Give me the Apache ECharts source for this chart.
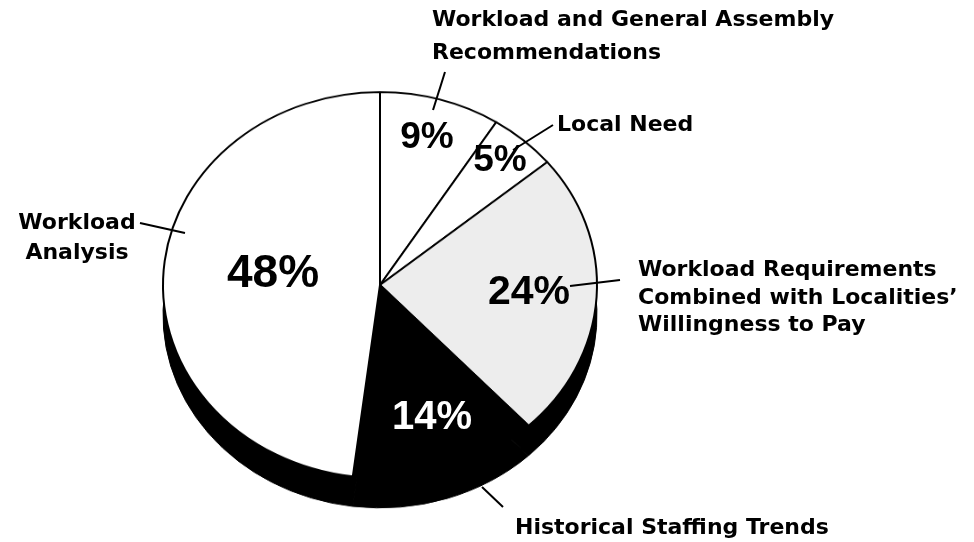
<!DOCTYPE html>
<html>
<head>
<meta charset="utf-8">
<script src="https://cdn.jsdelivr.net/npm/echarts@6/dist/echarts.min.js"></script>
<style>
  html, body { margin:0; padding:0; background:#fff; }
  #wrap { position:relative; width:974px; height:542px; overflow:hidden; }
  #pie { position:absolute; left:0; top:0; width:974px; height:542px; transform: scaleY(0.889); transform-origin: 380px 285px; }
  #labels { position:absolute; left:0; top:0; width:974px; height:542px; }
</style>
</head>
<body>
<div id="wrap">
  <div id="pie"></div>
  <div id="labels"></div>
</div>
<script>
// ---- data ----
const categories = [
  'Workload and General Assembly\nRecommendations',
  'Local Need',
  'Workload Requirements\nCombined with Localities\u2019\nWillingness to Pay',
  'Historical Staffing Trends',
  'Workload\nAnalysis'
];
const values = [9, 5, 24, 14, 48];
const sliceColors = ['#ffffff', '#ffffff', '#ededed', '#000000', '#ffffff'];

// ---- pie layer (vertically squashed to an ellipse) ----
const pieChart = echarts.init(document.getElementById('pie'), null, { renderer: 'canvas' });
const CX = 380, CY = 285, R = 217, SQUASH = 0.889, DEPTH = 30;
pieChart.setOption({
  animation: false,
  series: [
    {
      type: 'pie', silent: true,
      center: [CX, CY + DEPTH / SQUASH], radius: R,
      startAngle: 90, clockwise: true,
      label: { show: false }, labelLine: { show: false },
      itemStyle: { color: '#000', borderColor: '#000', borderWidth: 1 },
      data: values.map((v, i) => ({ value: v, name: categories[i] }))
    },
    {
      type: 'pie', silent: true,
      center: [CX, CY], radius: R,
      startAngle: 90, clockwise: true,
      label: { show: false }, labelLine: { show: false },
      itemStyle: { borderColor: '#000', borderWidth: 2 },
      data: values.map((v, i) => ({ value: v, name: categories[i], itemStyle: { color: sliceColors[i] } }))
    }
  ]
});

// ---- label layer ----
const labelChart = echarts.init(document.getElementById('labels'), null, { renderer: 'canvas' });
const NAME_FONT = 'bold 22px "DejaVu Sans"';
const PCT_FAMILY = '"Liberation Sans", Arial, sans-serif';
function txt(x, y, text, font, fill, align, lineHeight) {
  return { type: 'text', x: x, y: y, silent: true, z: 10,
    style: { text: text, font: font, fill: fill || '#000', align: align || 'left', verticalAlign: 'middle', lineHeight: lineHeight || 30 } };
}
function ln(x1, y1, x2, y2) {
  return { type: 'line', silent: true, z: 9, shape: { x1: x1, y1: y1, x2: x2, y2: y2 }, style: { stroke: '#000', lineWidth: 2 } };
}
const pct = values.map(v => v + '%');
labelChart.setOption({
  animation: false,
  graphic: [
    // category names
    txt(432, 37, categories[0], NAME_FONT, '#000', 'left', 33),
    txt(557, 125, categories[1], NAME_FONT, '#000', 'left', 28),
    txt(638, 298, categories[2], NAME_FONT, '#000', 'left', 27.5),
    txt(515, 528, categories[3], NAME_FONT, '#000', 'left', 28),
    txt(77, 238, categories[4], NAME_FONT, '#000', 'center', 30),
    // pointer lines
    ln(445, 72, 433, 110),
    ln(553, 125, 513, 150),
    ln(620, 280, 570, 286),
    ln(482, 487, 503, 507),
    ln(140, 223, 185, 233),
    // percentages
    txt(427, 138, pct[0], 'bold 37px ' + PCT_FAMILY, '#000', 'center'),
    txt(500, 161, pct[1], 'bold 37px ' + PCT_FAMILY, '#000', 'center'),
    txt(529, 293, pct[2], 'bold 41px ' + PCT_FAMILY, '#000', 'center'),
    txt(432, 418, pct[3], 'bold 40px ' + PCT_FAMILY, '#fff', 'center'),
    txt(273, 274, pct[4], 'bold 46px ' + PCT_FAMILY, '#000', 'center')
  ]
});
</script>
</body>
</html>
